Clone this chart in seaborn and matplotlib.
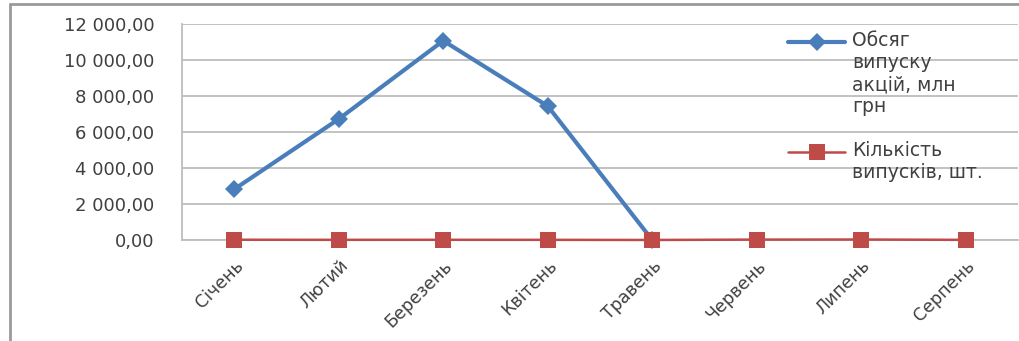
import numpy as np
import pandas as pd
import matplotlib
matplotlib.use("Agg")
import matplotlib.pyplot as plt
from matplotlib.lines import Line2D
import seaborn as sns

months = ["Січень", "Лютий", "Березень", "Квітень", "Травень", "Червень", "Липень", "Серпень"]
volume = [2820, 6720, 11070, 7440, 0, np.nan, np.nan, np.nan]
issues = [14, 10, 12, 9, 2, 22, 26, 8]
yticks = [0, 2000, 4000, 6000, 8000, 10000, 12000]
ytick_labels = ["0,00", "2 000,00", "4 000,00", "6 000,00", "8 000,00", "10 000,00", "12 000,00"]
label_volume = "Обсяг\nвипуску\nакцій, млн\nгрн"
label_issues = "Кількість\nвипусків, шт."

sns.set_style("white")
plt.rcParams['font.family'] = ['DejaVu Sans']

BLUE = "#4a7ebb"
RED = "#be4b48"
GRID = "#bdbdbd"
TXT = "#404040"

fig = plt.figure(figsize=(10.19, 3.41), dpi=100)
W, H = 1019, 341
ax = fig.add_axes([182 / W, (H - 240) / H, (1018 - 182) / W, (240 - 24) / H])

df_v = pd.DataFrame({"month": months, "value": volume})
df_i = pd.DataFrame({"month": months, "value": issues})

sns.lineplot(data=df_i, x="month", y="value", ax=ax, sort=False, color=RED,
             linewidth=1.8, marker="s", markersize=11, markeredgewidth=0, zorder=3)
sns.lineplot(data=df_v.dropna(), x="month", y="value", ax=ax, sort=False, color=BLUE,
             linewidth=3.0, marker="D", markersize=9, markeredgewidth=0, zorder=2)
for ln in ax.lines:
    ln.set_clip_on(False)

ax.set_xlim(-0.5, len(months) - 0.5)
ax.set_ylim(0, 12000)
ax.set_yticks(yticks)
ax.set_yticklabels(ytick_labels, fontsize=13, color=TXT)
ax.set_xticks(range(len(months)))
ax.set_xticklabels(months, rotation=45, ha="right", va="top", rotation_mode="anchor",
                   fontsize=12.5, color=TXT)
ax.tick_params(axis="y", length=0, pad=20)
ax.tick_params(axis="x", length=0, pad=12)
ax.set_xlabel("")
ax.set_ylabel("")
ax.grid(axis="y", color=GRID, linewidth=1.3)
ax.set_axisbelow(True)
for s in ["top", "right"]:
    ax.spines[s].set_visible(False)
for s in ["left", "bottom"]:
    ax.spines[s].set_color(GRID)
    ax.spines[s].set_linewidth(1.3)

# legend (manual, handles aligned with first text line)
def fx(px):
    return px / W

def fy(py):
    return (H - py) / H

for yp, col, mk, lw, ms in [(42, BLUE, "D", 3.0, 9), (152, RED, "s", 1.8, 11)]:
    fig.add_artist(Line2D([fx(788), fx(845)], [fy(yp), fy(yp)], color=col, linewidth=lw))
    fig.add_artist(Line2D([fx(816.5)], [fy(yp)], color=col, marker=mk, markersize=ms,
                          markeredgewidth=0, linestyle="none"))
fig.text(fx(852), fy(31), label_volume, fontsize=13.5, color=TXT, va="top", ha="left",
         linespacing=1.2)
fig.text(fx(852), fy(141), label_issues, fontsize=13.5, color=TXT, va="top", ha="left",
         linespacing=1.2)

# outer chart frame
fig.add_artist(Line2D([fx(10), fx(10)], [fy(4), fy(345)], color="#9a9a9a", linewidth=2))
fig.add_artist(Line2D([fx(10), fx(1025)], [fy(4), fy(4)], color="#9a9a9a", linewidth=2))

fig.savefig("out.png", dpi=100)
